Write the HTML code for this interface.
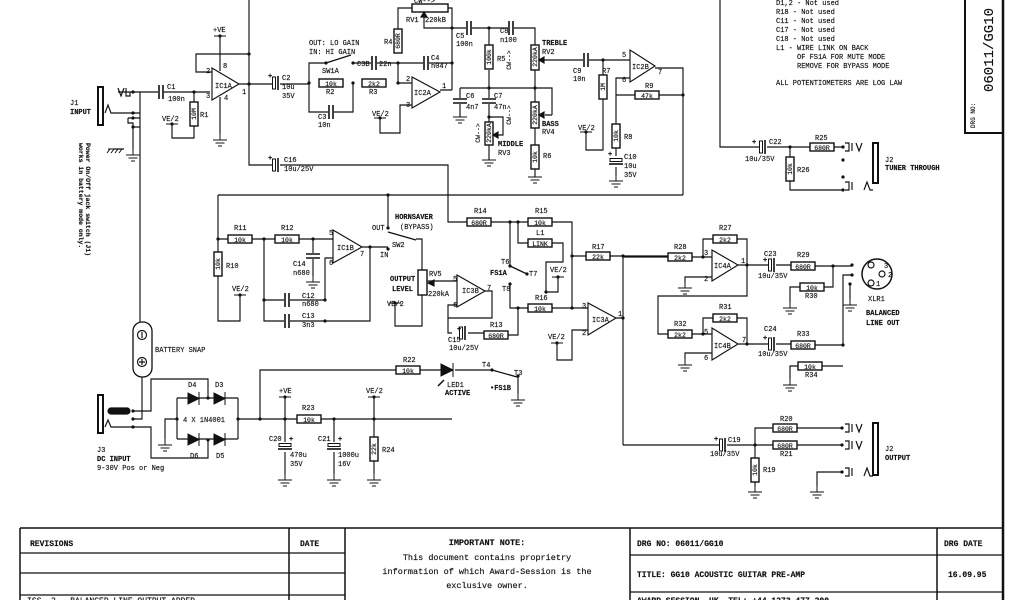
<!DOCTYPE html>
<html><head><meta charset="utf-8"><style>
html,body{margin:0;padding:0;background:#fff;}
svg{display:block;}
text{font-family:"Liberation Mono",monospace;font-size:7px;fill:#111;stroke:#111;stroke-width:0.15;}
.b{font-weight:bold;}
.v{font-size:6.5px;text-anchor:middle;}
.t{font-family:"Liberation Sans",sans-serif;font-size:9px;}
</style></head><body>
<svg width="1024" height="600" viewBox="0 0 1024 600" xmlns="http://www.w3.org/2000/svg">
<defs>
<g id="rh"><rect x="-12" y="-4" width="24" height="8" fill="#fff" stroke="#111" stroke-width="1.4"/></g>
<g id="rv"><rect x="-4" y="-12" width="8" height="24" fill="#fff" stroke="#111" stroke-width="1.4"/></g>
<g id="ch"><rect x="-3" y="-8" width="6" height="16" fill="#fff"/><path d="M-2,-7V7M2,-7V7" stroke="#111" stroke-width="1.6"/></g>
<g id="ce"><rect x="-4" y="-8" width="8" height="16" fill="#fff"/><rect x="-3.5" y="-6" width="3" height="12" fill="#fff" stroke="#111"/><path d="M2,-7V7" stroke="#111" stroke-width="1.6"/></g>
<g id="cv"><rect x="-8" y="-3" width="16" height="6" fill="#fff"/><path d="M-7,-2H7M-7,2H7" stroke="#111" stroke-width="1.6"/></g>
<g id="cev"><rect x="-8" y="-4" width="16" height="8" fill="#fff"/><rect x="-6" y="-3.5" width="12" height="3" fill="#fff" stroke="#111"/><path d="M-7,2H7" stroke="#111" stroke-width="1.6"/></g>
<g id="gnd"><path d="M0,-6V0M-7,0H7M-4.5,3H4.5M-2,6H2" stroke="#111" fill="none"/></g>
<g id="vh"><path d="M-6,0H6" stroke="#111"/><circle r="1.6" fill="#111"/></g>
</defs>
<g stroke="#111" stroke-width="1.15" fill="none">
<!-- frame -->
<path d="M1003,0V600" stroke-width="2.5"/>
<path d="M965,0V133H1003" stroke-width="2"/>
<path d="M20,528H1003M20,528V600M289,528V600M345,528V600M630,528V600M937,528V600" stroke-width="1.5"/>
<path d="M20,553H345M20,573H345M20,595H345M630,555H1003M630,592H1003"/>

<!-- J1 input -->
<rect x="98" y="87" width="5" height="38" fill="#fff" stroke-width="2"/>
<path d="M118,92H210M118,88L121,96L124,88M126,88V96H130V92M105,113L108,105L111,113H133M128,118H133M128,118V123H133V127M140,92V333M133,113H140M133,118H140M133,127H140M133,127V149M114,149H124"/>
<path d="M194,92V102M194,126V138H172V124"/>
<!-- IC1A -->
<polygon points="212,68 212,100 239,84" fill="#fff"/>
<path d="M220,36V71M220,97V134M212,72H196V54H249M239,84H309M249,0V165H448V222H475"/>
<!-- gain stage -->
<path d="M309,83V63H326M353,63H452M309,83V112H353V83M398,83V63M398,53V30V8H412M448,8H452V28M424,16V28H452M452,28V90M440,90H452M398,83H412M380,118V133H400V105H412"/>
<path d="M326,63L351,55" stroke-width="1.3"/>
<polygon points="412,77 412,108 440,92" fill="#fff"/>
<rect x="412" y="4" width="36" height="8" fill="#fff" stroke-width="1.4"/>
<path d="M424,12L421,17H427Z" fill="#111"/>
<!-- tone -->
<path d="M452,28H535V45M489,28V45M489,70V88M460,88H552V115M460,88V100M460,103V117M489,88V100M489,103V122M535,70V102M535,128V147M535,168V177M489,145V160M497,135H503V117H489M545,115H552M540,60H630M603,60V77M603,97V150H586V132"/>
<rect x="485" y="122" width="8" height="23" fill="#fff" stroke-width="1.4"/>
<rect x="531" y="45" width="8" height="25" fill="#fff" stroke-width="1.4"/>
<rect x="531" y="102" width="8" height="26" fill="#fff" stroke-width="1.4"/>
<path d="M493,135L498,132V138Z M539,60L544,57V63Z M539,115L544,112V118Z" fill="#111"/>
<!-- IC2B -->
<polygon points="630,50 630,82 655,66" fill="#fff"/>
<path d="M655,68H683V195M630,78H616V95H683M616,95V125M616,147V156M616,167V175"/>
<path d="M218,195H683"/>
<!-- IC1B section -->
<path d="M218,195V321H240V295M218,239H333M313,239V254M313,258V276M264,239V321H370V247M264,300H325V258H333M362,247H388M388,195V228"/>
<polygon points="333,230 333,263 362,247" fill="#fff"/>
<path d="M388,232L416,240" stroke-width="1.3"/>
<path d="M416,239H422V270M422,295V326H395V303M427,281H457M457,305H448V318H492V291H485M452,333H448V318M468,333H484M508,335H518V308"/>
<rect x="418" y="270" width="9" height="25" fill="#fff" stroke-width="1.4"/>
<path d="M428,283L434,280V286Z" fill="#111"/>
<polygon points="457,275 457,307 485,291" fill="#fff"/>
<!-- FS1A / R14 R15 -->
<path d="M491,222H528M510,222V266M518,222V243H528M552,222H572V308M552,243H563V262H546V292M546,292H558V277M510,284V308H528M552,308H588M572,256H586M610,256H683M616,318H623M623,256V445M557,343V360H572V330H588"/>
<path d="M510,266L527,274" stroke-width="1.3"/>
<polygon points="588,303 588,335 616,318" fill="#fff"/>
<!-- IC4A/B -->
<path d="M623,257H668M692,257H712M703,257V239H713M737,239H747V265M712,277H685V282M738,265H768M776,265H791M815,266H852M833,266V287H824M800,287H790V302M747,265V296H658V334H668M692,334H712M703,334V318H713M737,318H747V344M712,353H685V359M738,344H768M776,344H791M815,345H843M843,345V275H852M843,366H822M798,366H790V379M850,284V299"/>
<polygon points="712,250 712,281 738,265" fill="#fff"/>
<polygon points="712,328 712,360 738,344" fill="#fff"/>
<circle cx="877" cy="274" r="15" fill="#fff" stroke-width="1.5"/>
<circle cx="871" cy="265" r="3"/><circle cx="882" cy="274" r="3"/><circle cx="871" cy="283" r="3"/>
<!-- output J2 -->
<path d="M623,445H719M727,445H773M755,445V428H773M797,428H842M797,445H842M755,445V458M755,482V486M842,472H817V486"/>
<path d="M845,424H849V432H845M852,424V432M856,424L859,432L862,424 M845,441H849V449H845M852,441V449M856,441L859,449L862,441 M845,468H849V476H845M852,468V476M864,476L867,468L870,476H873"/>
<rect x="873" y="423" width="5" height="52" fill="#fff" stroke-width="2"/>
<!-- tuner out -->
<path d="M720,0V147H759M767,147H810M834,147H843M790,147V157M790,181V190H843"/>
<path d="M845,143H849V151H845M852,143V151M856,143L859,151L862,143 M845,182H849V190H845M852,182V190M864,190L867,182L870,190H873"/>
<rect x="873" y="143" width="5" height="40" fill="#fff" stroke-width="2"/>
<!-- battery / DC -->
<rect x="133" y="322" width="19" height="55" rx="9" fill="#fff" stroke-width="1.3"/>
<circle cx="142" cy="335" r="4.5"/><path d="M142,332V338"/>
<circle cx="142" cy="362" r="4.5"/><path d="M139,362H145M142,359V365"/>
<path d="M142,377V419H133M133,411H151V379H208V398M133,427H151V458H208V440"/>
<rect x="98" y="395" width="5" height="38" fill="#fff" stroke-width="2"/>
<rect x="108" y="408" width="22" height="6" rx="3" fill="#111"/>
<path d="M105,427L108,420L111,427H133"/>
<path d="M177,398H238M177,439H238M177,398V439M238,398V439M177,419H165V439M238,419H452M260,419V370H396M420,370H441M455,370H492M285,397V442M285,452V474M334,419V442M334,452V474M374,397V437M374,461V474M518,376V394"/>
<path d="M492,370L517,377" stroke-width="1.3"/>
</g>
<!-- diodes -->
<g fill="#111" stroke="#111">
<path d="M188,393V404L199,398.5Z"/><path d="M199,392V405"/>
<path d="M214,393V404L225,398.5Z"/><path d="M225,392V405"/>
<path d="M188,434V445L199,439.5Z"/><path d="M199,433V446"/>
<path d="M214,434V445L225,439.5Z"/><path d="M225,433V446"/>
<path d="M441,364V376L453,370Z"/><path d="M453,363V377"/>
<path d="M444,380L438,386" stroke-width="1.5"/>
</g>
<use href="#ch" x="161" y="92"/><use href="#rv" x="194" y="114"/>
<use href="#ce" x="276" y="83"/><use href="#rh" x="331" y="83"/><use href="#rh" x="374" y="83"/>
<use href="#ch" x="331" y="112"/><use href="#ch" x="374" y="63"/><use href="#ch" x="426" y="63"/>
<use href="#rv" x="398" y="41"/>
<use href="#ch" x="469" y="28"/><use href="#ch" x="511" y="28"/>
<use href="#rv" x="489" y="57"/><use href="#cv" x="460" y="101"/><use href="#cv" x="489" y="101"/>
<use href="#rv" x="535" y="157"/><use href="#ch" x="586" y="60"/>
<use href="#rv" x="603" y="87"/><use href="#rh" x="647" y="95"/><use href="#rv" x="616" y="136"/>
<use href="#cev" x="616" y="162"/>
<use href="#ce" x="276" y="165"/>
<use href="#rh" x="240" y="239"/><use href="#rh" x="287" y="239"/><use href="#cv" x="313" y="256"/>
<use href="#rv" x="218" y="264"/><use href="#ch" x="287" y="300"/><use href="#ch" x="287" y="321"/>
<use href="#ce" x="463" y="333"/><use href="#rh" x="496" y="335"/>
<use href="#rh" x="479" y="222"/><use href="#rh" x="540" y="222"/><use href="#rh" x="540" y="243"/>
<use href="#rh" x="540" y="308"/><use href="#rh" x="598" y="256"/>
<use href="#rh" x="680" y="257"/><use href="#rh" x="725" y="239"/><use href="#ce" x="772" y="265"/>
<use href="#rh" x="803" y="266"/><use href="#rh" x="812" y="287"/>
<use href="#rh" x="680" y="334"/><use href="#rh" x="725" y="318"/><use href="#ce" x="772" y="344"/>
<use href="#rh" x="803" y="345"/><use href="#rh" x="810" y="366"/>
<use href="#ce" x="723" y="445"/><use href="#rh" x="785" y="428"/><use href="#rh" x="785" y="445"/><use href="#rv" x="755" y="470"/>
<use href="#ce" x="763" y="147"/><use href="#rh" x="822" y="147"/><use href="#rv" x="790" y="169"/>
<use href="#rh" x="408" y="370"/><use href="#rh" x="309" y="419"/>
<use href="#cev" x="285" y="447"/><use href="#cev" x="334" y="447"/><use href="#rv" x="374" y="449"/>
<use href="#gnd" x="220" y="140"/><use href="#gnd" x="460" y="117"/><use href="#gnd" x="489" y="160"/>
<use href="#gnd" x="535" y="177"/><use href="#gnd" x="616" y="181"/><use href="#gnd" x="313" y="282"/>
<use href="#gnd" x="133" y="155"/><use href="#gnd" x="685" y="288"/><use href="#gnd" x="790" y="308"/>
<use href="#gnd" x="685" y="365"/><use href="#gnd" x="790" y="385"/><use href="#gnd" x="850" y="305"/>
<use href="#gnd" x="755" y="492"/><use href="#gnd" x="817" y="492"/><use href="#gnd" x="165" y="445"/>
<use href="#gnd" x="285" y="480"/><use href="#gnd" x="334" y="480"/><use href="#gnd" x="374" y="480"/>
<use href="#gnd" x="518" y="400"/>
<path d="M108,149H122M110,149L107,153M114,149L111,153M118,149L115,153M122,149L119,153" stroke="#111"/>
<use href="#vh" x="172" y="124"/><use href="#vh" x="380" y="118"/><use href="#vh" x="586" y="132"/>
<use href="#vh" x="240" y="295"/><use href="#vh" x="395" y="303"/><use href="#vh" x="558" y="277"/>
<use href="#vh" x="557" y="343"/><use href="#vh" x="220" y="36"/><use href="#vh" x="285" y="397"/><use href="#vh" x="374" y="397"/>
<g fill="#111">
<circle cx="133" cy="92" r="1.6"/><circle cx="133" cy="113" r="1.6"/><circle cx="133" cy="118" r="1.6"/><circle cx="133" cy="127" r="1.6"/>
<circle cx="194" cy="92" r="1.6"/><circle cx="249" cy="54" r="1.6"/><circle cx="249" cy="84" r="1.6"/>
<circle cx="309" cy="83" r="1.6"/><circle cx="353" cy="83" r="1.6"/><circle cx="398" cy="83" r="1.6"/><circle cx="398" cy="63" r="1.6"/>
<circle cx="326" cy="63" r="1.6"/><circle cx="353" cy="63" r="1.6"/><circle cx="452" cy="63" r="1.6"/><circle cx="452" cy="28" r="1.6"/>
<circle cx="489" cy="28" r="1.6"/><circle cx="489" cy="88" r="1.6"/><circle cx="535" cy="88" r="1.6"/><circle cx="489" cy="117" r="1.6"/>
<circle cx="603" cy="60" r="1.6"/><circle cx="683" cy="95" r="1.6"/>
<circle cx="218" cy="239" r="1.6"/><circle cx="264" cy="239" r="1.6"/><circle cx="313" cy="239" r="1.6"/><circle cx="325" cy="300" r="1.6"/><circle cx="325" cy="321" r="1.6"/><circle cx="264" cy="300" r="1.6"/>
<circle cx="370" cy="247" r="1.6"/><circle cx="388" cy="195" r="1.6"/><circle cx="388" cy="228" r="1.6"/><circle cx="388" cy="249" r="1.6"/>
<circle cx="510" cy="222" r="1.6"/><circle cx="518" cy="222" r="1.6"/><circle cx="510" cy="266" r="1.6"/><circle cx="527" cy="274" r="1.6"/><circle cx="510" cy="284" r="1.6"/>
<circle cx="518" cy="308" r="1.6"/><circle cx="546" cy="292" r="1.6"/><circle cx="572" cy="308" r="1.6"/><circle cx="572" cy="256" r="1.6"/>
<circle cx="623" cy="256" r="1.6"/><circle cx="623" cy="318" r="1.6"/><circle cx="703" cy="257" r="1.6"/><circle cx="747" cy="265" r="1.6"/>
<circle cx="833" cy="266" r="1.6"/><circle cx="852" cy="265" r="1.6"/><circle cx="852" cy="275" r="1.6"/><circle cx="850" cy="284" r="1.6"/>
<circle cx="703" cy="334" r="1.6"/><circle cx="747" cy="344" r="1.6"/><circle cx="843" cy="345" r="1.6"/>
<circle cx="755" cy="445" r="1.6"/><circle cx="842" cy="428" r="1.6"/><circle cx="842" cy="445" r="1.6"/><circle cx="842" cy="472" r="1.6"/>
<circle cx="790" cy="147" r="1.6"/><circle cx="843" cy="147" r="1.6"/><circle cx="843" cy="190" r="1.6"/><circle cx="843" cy="160" r="1.6"/><circle cx="843" cy="177" r="1.6"/>
<circle cx="177" cy="419" r="1.6"/><circle cx="238" cy="419" r="1.6"/><circle cx="208" cy="398" r="1.6"/><circle cx="208" cy="440" r="1.6"/>
<circle cx="133" cy="411" r="1.6"/><circle cx="133" cy="419" r="1.6"/><circle cx="133" cy="427" r="1.6"/>
<circle cx="260" cy="419" r="1.6"/><circle cx="285" cy="419" r="1.6"/><circle cx="334" cy="419" r="1.6"/><circle cx="374" cy="419" r="1.6"/>
<circle cx="492" cy="370" r="1.6"/><circle cx="518" cy="376" r="1.6"/>
</g>
<text class="v" x="331" y="86">10k</text><text class="v" x="374" y="86">2k2</text><text class="v" x="647" y="98">47k</text>
<text class="v" x="240" y="242">10k</text><text class="v" x="287" y="242">10k</text><text class="v" x="496" y="338">680R</text>
<text class="v" x="479" y="225">680R</text><text class="v" x="540" y="225">10k</text><text class="v" x="540" y="246">LINK</text>
<text class="v" x="540" y="311">10k</text><text class="v" x="598" y="259">22k</text>
<text class="v" x="680" y="260">2k2</text><text class="v" x="725" y="242">2k2</text><text class="v" x="803" y="269">680R</text><text class="v" x="812" y="290">10k</text>
<text class="v" x="680" y="337">2k2</text><text class="v" x="725" y="321">2k2</text><text class="v" x="803" y="348">680R</text><text class="v" x="810" y="369">10k</text>
<text class="v" x="785" y="431">680R</text><text class="v" x="785" y="448">680R</text><text class="v" x="822" y="150">680R</text>
<text class="v" x="408" y="373">10k</text><text class="v" x="309" y="422">10k</text>
<text class="v" transform="translate(196,114) rotate(-90)">10M</text>
<text class="v" transform="translate(400,41) rotate(-90)">680R</text>
<text class="v" transform="translate(491,57) rotate(-90)">100k</text>
<text class="v" transform="translate(537,57) rotate(-90)">220kA</text>
<text class="v" transform="translate(537,115) rotate(-90)">220kA</text>
<text class="v" transform="translate(491,133) rotate(-90)">220kA</text>
<text class="v" transform="translate(537,157) rotate(-90)">10k</text>
<text class="v" transform="translate(605,87) rotate(-90)">1M</text>
<text class="v" transform="translate(618,136) rotate(-90)">10k</text>
<text class="v" transform="translate(220,264) rotate(-90)">10k</text>
<text class="v" transform="translate(757,470) rotate(-90)">10k</text>
<text class="v" transform="translate(792,169) rotate(-90)">10k</text>
<text class="v" transform="translate(376,449) rotate(-90)">22k</text>
<text class="v" transform="translate(511,60) rotate(-90)">CW--&gt;</text>
<text class="v" transform="translate(511,115) rotate(-90)">CW--&gt;</text>
<text class="v" transform="translate(480,133) rotate(-90)">CW--&gt;</text>
<text x="70" y="105">J1</text><text x="70" y="114" class="b">INPUT</text>
<text x="167" y="89">C1</text><text x="168" y="101">100n</text><text x="200" y="117">R1</text><text x="162" y="121">VE/2</text>
<text x="213" y="32">+VE</text><text x="215" y="88">IC1A</text><text x="206" y="73">2</text><text x="206" y="98">3</text><text x="223" y="68">8</text><text x="224" y="100">4</text><text x="242" y="94">1</text>
<text x="268" y="78" class="b">+</text><text x="282" y="80">C2</text><text x="282" y="89">10u</text><text x="282" y="98">35V</text>
<text x="309" y="45">OUT: LO GAIN</text><text x="309" y="54">IN: HI GAIN</text><text x="322" y="73">SW1A</text>
<text x="326" y="94">R2</text><text x="369" y="94">R3</text><text x="318" y="119">C3</text><text x="318" y="127">10n</text>
<text x="357" y="66">C3B</text><text x="379" y="66">22n</text><text x="384" y="44">R4</text><text x="431" y="60">C4</text><text x="431" y="68">n047</text>
<text x="414" y="3">CW--&gt;</text><text x="406" y="22">RV1</text><text x="425" y="22">220kB</text>
<text x="414" y="95">IC2A</text><text x="406" y="81">2</text><text x="406" y="107">3</text><text x="442" y="88">1</text><text x="372" y="116">VE/2</text>
<text x="456" y="38">C5</text><text x="456" y="46">100n</text><text x="500" y="33">C8</text><text x="500" y="42">n100</text>
<text x="497" y="61">R5</text><text x="542" y="45" class="b">TREBLE</text><text x="542" y="54">RV2</text>
<text x="466" y="98">C6</text><text x="466" y="109">4n7</text><text x="494" y="98">C7</text><text x="494" y="109">47n</text>
<text x="498" y="146" class="b">MIDDLE</text><text x="498" y="155">RV3</text><text x="542" y="126" class="b">BASS</text><text x="542" y="134">RV4</text><text x="543" y="158">R6</text>
<text x="573" y="73">C9</text><text x="573" y="81">10n</text><text x="602" y="73">R7</text><text x="578" y="130">VE/2</text>
<text x="632" y="69">IC2B</text><text x="622" y="57">5</text><text x="622" y="82">6</text><text x="658" y="74">7</text><text x="645" y="88">R9</text>
<text x="624" y="139">R8</text><text x="608" y="156" class="b">+</text><text x="624" y="159">C10</text><text x="624" y="168">10u</text><text x="624" y="177">35V</text>
<text x="268" y="160" class="b">+</text><text x="284" y="162">C16</text><text x="284" y="171">10u/25V</text>
<text x="776" y="5">D1,2 - Not used</text><text x="776" y="14">R18 - Not used</text><text x="776" y="23">C11 - Not used</text><text x="776" y="32">C17 - Not used</text><text x="776" y="41">C18 - Not used</text>
<text x="776" y="50">L1 - WIRE LINK ON BACK</text><text x="797" y="59">OF FS1A FOR MUTE MODE</text><text x="797" y="68">REMOVE FOR BYPASS MODE</text><text x="776" y="85">ALL POTENTIOMETERS ARE LOG LAW</text>
<text x="752" y="144" class="b">+</text><text x="769" y="144">C22</text><text x="745" y="161">10u/35V</text><text x="815" y="140">R25</text><text x="797" y="172">R26</text>
<text x="885" y="162">J2</text><text x="885" y="170" class="b">TUNER THROUGH</text>
<text transform="translate(993,92) rotate(-90)" style="font-size:14px">06011/GG10</text>
<text transform="translate(975,128) rotate(-90)" style="font-size:6px">DRG NO:</text>
<text transform="translate(86,143) rotate(90)" class="b" style="font-size:6.5px">Power On/Off jack switch (J1)</text>
<text transform="translate(79,143) rotate(90)" class="b" style="font-size:6.5px">works in battery mode only.</text>
<text x="234" y="230">R11</text><text x="281" y="230">R12</text><text x="226" y="268">R10</text><text x="232" y="291">VE/2</text>
<text x="293" y="266">C14</text><text x="293" y="275">n680</text><text x="302" y="298">C12</text><text x="302" y="306">n680</text><text x="302" y="318">C13</text><text x="302" y="327">3n3</text>
<text x="337" y="250">IC1B</text><text x="329" y="235">5</text><text x="329" y="265">6</text><text x="360" y="256">7</text>
<text x="372" y="230">OUT</text><text x="395" y="219" class="b">HORNSAVER</text><text x="400" y="229">(BYPASS)</text><text x="392" y="247">SW2</text><text x="380" y="257">IN</text>
<text x="390" y="281" class="b">OUTPUT</text><text x="392" y="291" class="b">LEVEL</text><text x="429" y="276">RV5</text><text x="428" y="296">220kA</text><text x="387" y="306">VE/2</text>
<text x="462" y="293">IC3B</text><text x="453" y="281">5</text><text x="453" y="307">6</text><text x="487" y="290">7</text>
<text x="457" y="331" class="b">+</text><text x="448" y="342">C15</text><text x="449" y="350">10u/25V</text><text x="490" y="327">R13</text>
<text x="474" y="213">R14</text><text x="535" y="213">R15</text><text x="536" y="235">L1</text><text x="501" y="264">T6</text><text x="529" y="276">T7</text>
<text x="490" y="275" class="b">FS1A</text><text x="502" y="291">T8</text><text x="550" y="272">VE/2</text><text x="535" y="300">R16</text><text x="592" y="249">R17</text>
<text x="592" y="322">IC3A</text><text x="582" y="308">3</text><text x="582" y="335">2</text><text x="618" y="316">1</text><text x="548" y="339">VE/2</text>
<text x="674" y="249">R28</text><text x="719" y="230">R27</text><text x="714" y="268">IC4A</text><text x="704" y="255">3</text><text x="704" y="281">2</text><text x="741" y="263">1</text>
<text x="764" y="256">C23</text><text x="763" y="262" class="b">+</text><text x="758" y="278">10u/35V</text><text x="797" y="257">R29</text><text x="805" y="298">R30</text>
<text x="884" y="268">3</text><text x="888" y="277">2</text><text x="876" y="286">1</text><text x="868" y="301">XLR1</text><text x="866" y="315" class="b">BALANCED</text><text x="866" y="325" class="b">LINE OUT</text>
<text x="674" y="326">R32</text><text x="719" y="309">R31</text><text x="714" y="348">IC4B</text><text x="704" y="334">5</text><text x="704" y="360">6</text><text x="742" y="342">7</text>
<text x="764" y="331">C24</text><text x="763" y="340" class="b">+</text><text x="758" y="356">10u/35V</text><text x="797" y="336">R33</text><text x="805" y="377">R34</text>
<text x="714" y="441" class="b">+</text><text x="728" y="442">C19</text><text x="710" y="456">10u/35V</text><text x="780" y="421">R20</text><text x="780" y="456">R21</text><text x="763" y="472">R19</text>
<text x="885" y="451">J2</text><text x="885" y="460" class="b">OUTPUT</text>
<text x="155" y="352">BATTERY SNAP</text>
<text x="97" y="452">J3</text><text x="97" y="461" class="b">DC INPUT</text><text x="97" y="470">9-30V Pos or Neg</text>
<text x="188" y="387">D4</text><text x="215" y="387">D3</text><text x="190" y="458">D6</text><text x="216" y="458">D5</text><text x="183" y="422">4 X 1N4001</text>
<text x="279" y="393">+VE</text><text x="366" y="393">VE/2</text><text x="302" y="410">R23</text><text x="403" y="362">R22</text>
<text x="269" y="441">C20</text><text x="289" y="441" class="b">+</text><text x="290" y="457">470u</text><text x="290" y="466">35V</text>
<text x="318" y="441">C21</text><text x="338" y="441" class="b">+</text><text x="338" y="457">1000u</text><text x="338" y="466">16V</text><text x="382" y="452">R24</text>
<text x="447" y="387">LED1</text><text x="445" y="395" class="b">ACTIVE</text><text x="482" y="367">T4</text><text x="514" y="375">T3</text><text x="490" y="390" class="b">•FS1B</text>
<text x="30" y="546" class="b" style="font-size:8px">REVISIONS</text>
<text x="300" y="546" class="b" style="font-size:8px">DATE</text>
<text x="27" y="603" style="font-size:8px">ISS. 2 - BALANCED LINE OUTPUT ADDED</text>
<text x="487" y="545" class="b" style="font-size:8.5px;text-anchor:middle">IMPORTANT NOTE:</text>
<text x="487" y="560" style="font-size:8.5px;text-anchor:middle">This document contains proprietry</text>
<text x="487" y="574" style="font-size:8.5px;text-anchor:middle">information of which Award-Session is the</text>
<text x="487" y="588" style="font-size:8.5px;text-anchor:middle">exclusive owner.</text>
<text x="637" y="546" class="b" style="font-size:8px">DRG NO: 06011/GG10</text>
<text x="944" y="546" class="b" style="font-size:8px">DRG DATE</text>
<text x="637" y="577" class="b" style="font-size:8px">TITLE: GG10 ACOUSTIC GUITAR PRE-AMP</text>
<text x="948" y="577" class="b" style="font-size:8px">16.09.95</text>
<text x="637" y="603" class="b" style="font-size:8px">AWARD-SESSION, UK, TEL: +44 1273 477 200</text>
</svg>
</body></html>
